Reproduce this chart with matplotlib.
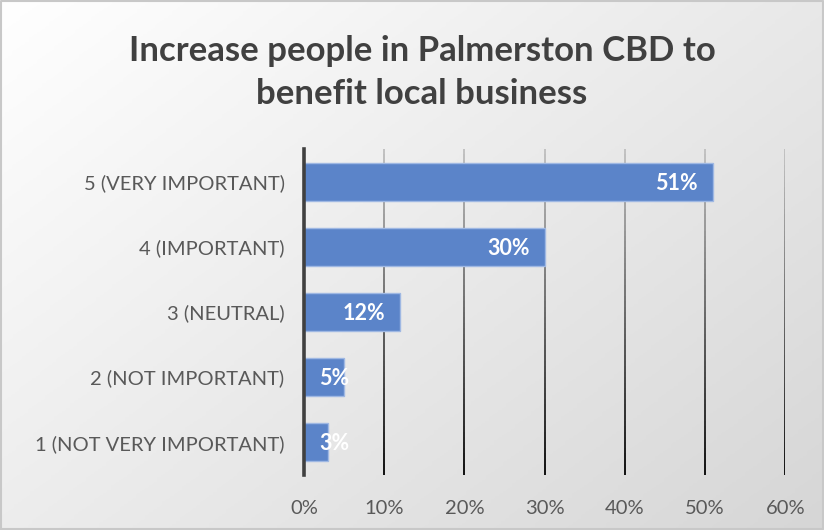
import matplotlib
matplotlib.use('Agg')
import matplotlib.pyplot as plt
import numpy as np
from matplotlib.collections import LineCollection
from matplotlib.colors import LinearSegmentedColormap

# datos del grafico
categorias = ['1 (NOT VERY IMPORTANT)', '2 (NOT IMPORTANT)', '3 (NEUTRAL)',
              '4 (IMPORTANT)', '5 (VERY IMPORTANT)']
valores = [0.03, 0.05, 0.12, 0.30, 0.51]
etiquetas = ['3%', '5%', '12%', '30%', '51%']
ticks_x = [0, 0.1, 0.2, 0.3, 0.4, 0.5, 0.6]
ticks_x_txt = ['0%', '10%', '20%', '30%', '40%', '50%', '60%']
titulo = 'Increase people in Palmerston CBD to\nbenefit local business'

plt.rcParams['font.family'] = ['Lato', 'DejaVu Sans']

fig = plt.figure(figsize=(8.24, 5.30), dpi=100)

# fondo con degradado (blanco arriba-izquierda, gris abajo-derecha)
fondo = fig.add_axes([0, 0, 1, 1], zorder=-10)
gx, gy = np.meshgrid(np.linspace(0, 1, 200), np.linspace(0, 1, 200))
grad = (gx * 0.55 + gy * 0.45)
cmap_fondo = LinearSegmentedColormap.from_list('fondo', ['#ffffff', '#d6d6d6'])
fondo.imshow(grad, cmap=cmap_fondo, aspect='auto', extent=[0, 1, 0, 1], origin='upper')
fondo.set_xlim(0, 1)
fondo.set_ylim(0, 1)
fondo.axis('off')
# borde exterior
fondo.plot([0.001, 0.999, 0.999, 0.001, 0.001], [0.001, 0.001, 0.999, 0.999, 0.001],
           color='#c8c8c8', lw=1.5)

ax = fig.add_axes([0.369, 0.1038, 0.584, 0.615])
ax.patch.set_alpha(0)

y_pos = np.arange(len(categorias))
ax.barh(y_pos, valores, height=0.58, color='#5b84c9', edgecolor='#9fb8e3',
        linewidth=1, zorder=3)

# lineas de cuadricula con degradado vertical (gris claro arriba, negro abajo)
n = 60
ys = np.linspace(-0.5, 4.5, n + 1)
cmap_grid = LinearSegmentedColormap.from_list('grid', ['#101010', '#c4c4c4'])
segs = []
cols = []
for xt in ticks_x[1:]:
    for i in range(n):
        segs.append([(xt, ys[i]), (xt, ys[i + 1])])
        cols.append(cmap_grid(i / n))
ax.add_collection(LineCollection(segs, colors=cols, linewidths=1.4, zorder=1))

ax.set_xlim(0, 0.6)
ax.set_ylim(-0.5, 4.5)
ax.set_yticks(y_pos)
ax.set_yticklabels(categorias)
ax.set_xticks(ticks_x)
ax.set_xticklabels(ticks_x_txt)
ax.tick_params(axis='both', length=0, labelsize=14.5, labelcolor='#595959')
ax.tick_params(axis='y', pad=14)
ax.tick_params(axis='x', pad=18)

for s in ['top', 'right', 'bottom']:
    ax.spines[s].set_visible(False)
ax.spines['left'].set_color('#404040')
ax.spines['left'].set_linewidth(2.6)
ax.spines['left'].set_zorder(4)

# etiquetas de datos
for y, v, t in zip(y_pos, valores, etiquetas):
    if v < 0.08:
        ax.annotate(t, (0, y), xytext=(11, -1), textcoords='offset points',
                    ha='left', va='center', color='white', fontsize=15.5,
                    fontweight='bold', zorder=5)
    else:
        ax.annotate(t, (v, y), xytext=(-11, -1), textcoords='offset points',
                    ha='right', va='center', color='white', fontsize=15.5,
                    fontweight='bold', zorder=5)

fig.text(0.512, 0.863, titulo, ha='center', va='center', fontsize=25,
         fontweight='bold', color='#404040', linespacing=1.4)

plt.savefig('out.png', dpi=100)
